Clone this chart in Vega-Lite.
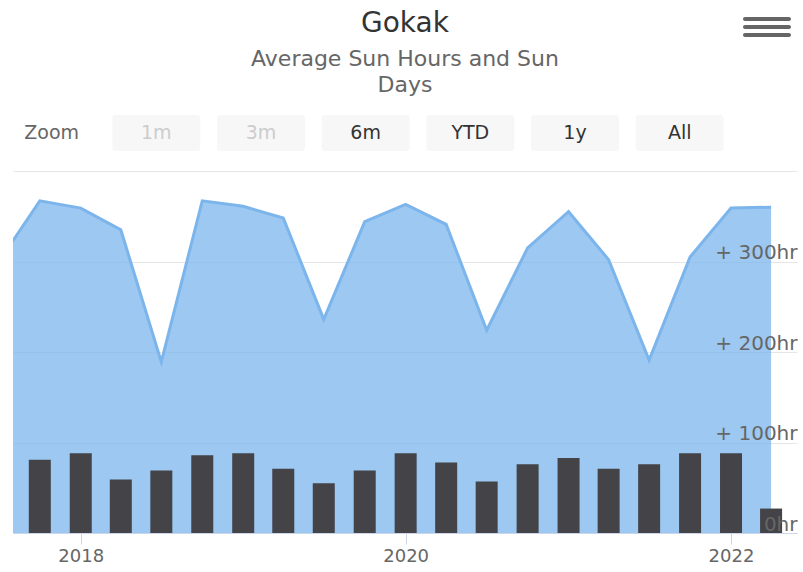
{
  "$schema": "https://vega.github.io/schema/vega-lite/v6.json",
  "background": "white",
  "padding": {"left": 13, "top": 10, "right": 6, "bottom": 0},
  "config": {"font": "DejaVu Sans", "view": {"stroke": null}},
  "title": {
    "text": "Gokak",
    "subtitle": ["Average Sun Hours and Sun", "Days"],
    "anchor": "middle",
    "frame": "group",
    "fontSize": 28,
    "fontWeight": "normal",
    "color": "#333333",
    "subtitleFontSize": 22,
    "subtitleColor": "#666666",
    "subtitleLineHeight": 26,
    "subtitlePadding": 11,
    "offset": -79
  },
  "datasets": {
    "menu": [
      {"icon": "menu", "bar": 1},
      {"icon": "menu", "bar": 2},
      {"icon": "menu", "bar": 3}
    ],
    "buttons": [
      {"label": "Zoom", "state": "label"},
      {"label": "1m", "state": "disabled"},
      {"label": "3m", "state": "disabled"},
      {"label": "6m", "state": "enabled"},
      {"label": "YTD", "state": "enabled"},
      {"label": "1y", "state": "enabled"},
      {"label": "All", "state": "enabled"}
    ],
    "sun": [
      {"date": "2017-07-01", "hours": 300, "days": null},
      {"date": "2017-10-01", "hours": 367, "days": 81},
      {"date": "2018-01-01", "hours": 359, "days": 88},
      {"date": "2018-04-01", "hours": 335, "days": 59},
      {"date": "2018-07-01", "hours": 189, "days": 69},
      {"date": "2018-10-01", "hours": 367, "days": 86},
      {"date": "2019-01-01", "hours": 361, "days": 88},
      {"date": "2019-04-01", "hours": 348, "days": 71},
      {"date": "2019-07-01", "hours": 236, "days": 55},
      {"date": "2019-10-01", "hours": 344, "days": 69},
      {"date": "2020-01-01", "hours": 363, "days": 88},
      {"date": "2020-04-01", "hours": 341, "days": 78},
      {"date": "2020-07-01", "hours": 224, "days": 57},
      {"date": "2020-10-01", "hours": 315, "days": 76},
      {"date": "2021-01-01", "hours": 355, "days": 83},
      {"date": "2021-04-01", "hours": 302, "days": 71},
      {"date": "2021-07-01", "hours": 191, "days": 76},
      {"date": "2021-10-01", "hours": 305, "days": 88},
      {"date": "2022-01-01", "hours": 359, "days": 88},
      {"date": "2022-04-01", "hours": 360, "days": 27}
    ]
  },
  "spacing": 78,
  "vconcat": [
    {
      "width": 784,
      "height": 20,
      "data": {"name": "menu"},
      "mark": {"type": "rect", "color": "#666666", "cornerRadius": 2},
      "encoding": {
        "x": {"field": "icon", "type": "nominal", "scale": {"range": [730, 778], "paddingInner": 0, "paddingOuter": 0}, "axis": null},
        "y": {"field": "bar", "type": "ordinal", "scale": {"paddingInner": 0.5, "paddingOuter": 0}, "axis": null}
      }
    },
    {
      "spacing": 20,
      "vconcat": [
        {
          "width": 784,
          "height": 36,
          "data": {"name": "buttons"},
          "layer": [
            {
              "transform": [{"filter": "datum.state !== 'label'"}],
              "mark": {"type": "rect", "color": "#f7f7f7", "cornerRadius": 3},
              "encoding": {
                "x": {"field": "label", "type": "nominal", "sort": null, "scale": {"domain": ["Zoom", "1m", "3m", "6m", "YTD", "1y", "All"], "range": [-13.7, 719], "paddingInner": 0.16, "paddingOuter": 0.08}, "axis": null}
              }
            },
            {
              "mark": {"type": "text", "fontSize": 19, "baseline": "middle"},
              "encoding": {
                "x": {"field": "label", "type": "nominal", "sort": null, "scale": {"domain": ["Zoom", "1m", "3m", "6m", "YTD", "1y", "All"], "range": [-13.7, 719], "paddingInner": 0.16, "paddingOuter": 0.08}, "axis": null},
                "text": {"field": "label"},
                "color": {"field": "state", "type": "nominal", "scale": {"domain": ["label", "disabled", "enabled"], "range": ["#666666", "#cccccc", "#333333"]}, "legend": null}
              }
            }
          ]
        },
        {
          "width": 784,
          "height": 362,
          "data": {"name": "sun"},
          "encoding": {
            "x": {
              "field": "date",
              "type": "temporal",
              "scale": {"type": "utc", "domain": [{"year": 2017, "month": 8, "date": 13, "utc": true}, {"year": 2022, "month": 5, "date": 18, "utc": true}], "nice": false},
              "axis": {
                "values": [{"year": 2018, "utc": true}, {"year": 2020, "utc": true}, {"year": 2022, "utc": true}],
                "format": "%Y",
                "labelFontSize": 18,
                "labelColor": "#666666",
                "tickColor": "#ccd6eb",
                "tickSize": 11,
                "domainColor": "#ccd6eb",
                "labelPadding": 3,
                "grid": false,
                "title": null,
                "labelFlush": false,
                "labelOverlap": false
              }
            }
          },
          "layer": [
            {
              "mark": {"type": "area", "color": "#7cb5ec", "fillOpacity": 0.75, "clip": true},
              "encoding": {
                "y": {
                  "field": "hours", "type": "quantitative",
                  "scale": {"domain": [0, 400], "nice": false},
                  "axis": {"orient": "left", "values": [0, 100, 200, 300, 400], "grid": true, "gridColor": "#e6e6e6", "gridOpacity": 1, "labels": false, "ticks": false, "tickSize": 0, "domain": false, "title": null, "zindex": 0}
                }
              }
            },
            {
              "mark": {"type": "line", "color": "#7cb5ec", "strokeWidth": 3, "clip": true},
              "encoding": {
                "y": {"field": "hours", "type": "quantitative", "scale": {"domain": [0, 400], "nice": false}, "axis": null}
              }
            },
            {
              "mark": {"type": "bar", "color": "#434348", "size": 22},
              "encoding": {
                "y": {
                  "field": "days", "type": "quantitative",
                  "scale": {"domain": [0, 400], "nice": false},
                  "axis": {
                    "orient": "right",
                    "values": [0, 100, 200, 300],
                    "labelExpr": "datum.value == 0 ? '0hr' : '+ ' + datum.value + 'hr'",
                    "labelAlign": "right",
                    "labelBaseline": "alphabetic",
                    "labelOffset": -3,
                    "labelPadding": 0,
                    "ticks": false,
                    "tickSize": 0,
                    "domain": false,
                    "grid": false,
                    "title": null,
                    "labelFontSize": 20,
                    "labelColor": "#666666",
                    "labelOverlap": false,
                    "zindex": 1
                  }
                }
              }
            }
          ],
          "resolve": {"axis": {"y": "independent"}}
        }
      ]
    }
  ]
}
